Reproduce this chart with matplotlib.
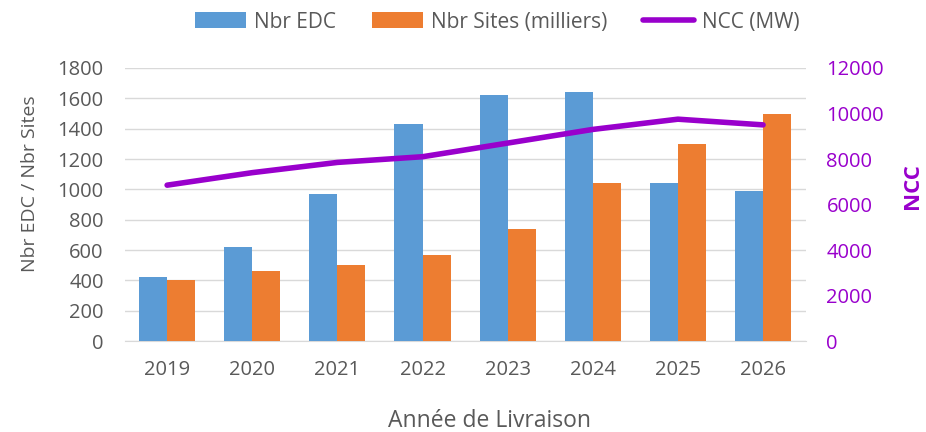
import matplotlib.pyplot as plt
import numpy as np

plt.rcParams['font.family'] = ['Open Sans', 'DejaVu Sans']

# data
annees = ['2019', '2020', '2021', '2022', '2023', '2024', '2025', '2026']
nbr_edc = [420, 620, 970, 1430, 1620, 1640, 1040, 990]
nbr_sites = [400, 460, 500, 570, 740, 1040, 1300, 1500]
ncc_mw = [6850, 7400, 7850, 8100, 8700, 9300, 9750, 9500]

bleu = '#5B9BD5'
orange = '#ED7D31'
violet = '#9900CC'
gris = '#595959'

fig = plt.figure(figsize=(9.26, 4.32), dpi=100)
ax = fig.add_axes([0.1345, 0.2106, 0.7355, 0.632])
ax2 = ax.twinx()

x = np.arange(len(annees))
w = 0.33
b1 = ax.bar(x - w / 2, nbr_edc, w, color=bleu, label='Nbr EDC', zorder=3)
b2 = ax.bar(x + w / 2, nbr_sites, w, color=orange, label='Nbr Sites (milliers)', zorder=3)
l1, = ax2.plot(x, ncc_mw, color=violet, linewidth=4, solid_capstyle='round',
               label='NCC (MW)', zorder=4)

ax.set_xlim(-0.5, len(annees) - 0.5)
ax.set_ylim(0, 1800)
ax.set_yticks(range(0, 1801, 200))
ax2.set_ylim(0, 12000)
ax2.set_yticks(range(0, 12001, 2000))

ax.set_xticks(x)
ax.set_xticklabels(annees)
ax.grid(axis='y', color='#D9D9D9', linewidth=1, zorder=0)

for s in ['top', 'left', 'right']:
    ax.spines[s].set_visible(False)
    ax2.spines[s].set_visible(False)
ax2.spines['bottom'].set_visible(False)
ax.spines['bottom'].set_color('#D9D9D9')

ax.tick_params(axis='x', length=0, pad=14, labelsize=14.5, labelcolor=gris)
ax.tick_params(axis='y', length=0, pad=15, labelsize=14.5, labelcolor=gris)
ax2.tick_params(axis='y', length=0, pad=15, labelsize=14.5, labelcolor=violet)

# axis titles placed as figure text
fig.text(490 / 926, 1 - 421 / 432, 'Année de Livraison', fontsize=16.5,
         color=gris, ha='center', va='center')
fig.text(30 / 926, 1 - 184 / 432, 'Nbr EDC / Nbr Sites', fontsize=14,
         color=gris, ha='center', va='center', rotation=90)
fig.text(913 / 926, 1 - 186 / 432, 'NCC', fontsize=16, color=violet,
         fontweight='bold', ha='center', va='center', rotation=90)

ax2.set_zorder(ax.get_zorder() + 1)
ax2.patch.set_visible(False)

fig.legend(handles=[b1, b2, l1], loc='center', bbox_to_anchor=(0.537, 0.949),
           ncol=3, frameon=False, fontsize=15, labelcolor=gris,
           handlelength=2.45, handleheight=0.8, handletextpad=0.4,
           columnspacing=1.7)

fig.savefig('out.png', dpi=100)
